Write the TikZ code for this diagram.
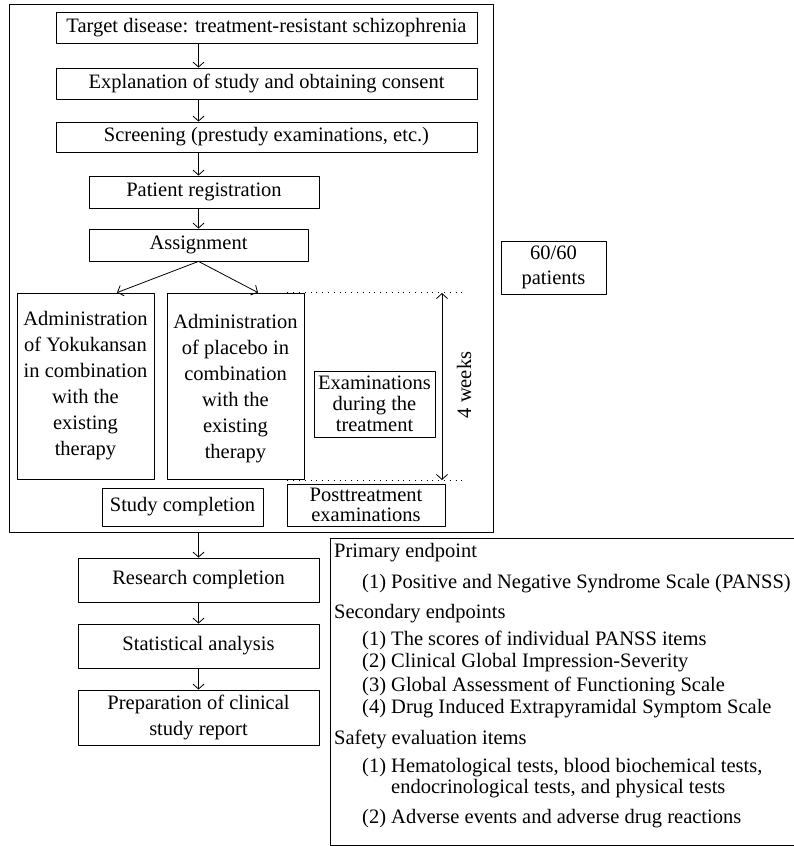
\documentclass[tikz,border=0pt]{standalone}
\usepackage{fontspec}
\setmainfont{Liberation Serif}
\usetikzlibrary{arrows.meta,calc}
\tikzset{box/.style={draw,line width=0.8pt,inner sep=0pt,align=center,font=\fontsize{20.5}{21}\selectfont}}
\tikzset{arr/.style={-{Straight Barb[length=5pt,width=11pt]},line width=0.8pt}}
\tikzset{txt/.style={anchor=west,inner sep=0pt,align=left,font=\fontsize{20.5}{21}\selectfont}}

\begin{document}
\begin{tikzpicture}[x=1pt,y=-1pt,line join=round]
\useasboundingbox (0,0) rectangle (794,846);
% --- frame round the study part
\node[box,minimum width=484pt,minimum height=528pt] (frame) at (251,268) {};
\node[box,minimum width=421pt,minimum height=31pt] (tgt) at (266.5,27.5) {Target disease: treatment-resistant schizophrenia};
\node[box,minimum width=421pt,minimum height=31pt] (expl) at (266.5,83.5) {Explanation of study and obtaining consent};
\node[box,minimum width=421pt,minimum height=30pt] (scr) at (266.5,137) {Screening (prestudy examinations, etc.)};
\node[box,minimum width=230pt,minimum height=32pt] (reg) at (204,192) {Patient registration};
\node[box,minimum width=219pt,minimum height=32pt] (asg) at (198.5,245) {Assignment};
\node[box,minimum width=137pt,minimum height=186pt,font=\fontsize{20.5}{26}\selectfont] (yoku) at (85.5,386) {Administration\\of Yokukansan\\in combination\\with the\\existing\\therapy};
\node[box,minimum width=137pt,minimum height=186pt,font=\fontsize{20.5}{26}\selectfont,text depth=-6pt] (plac) at (235.5,386) {Administration\\of placebo in\\combination\\with the\\existing\\therapy};
\node[box,minimum width=121pt,minimum height=66pt] (exdur) at (374.5,404) {Examinations\\during the\\treatment};
\node[box,minimum width=161pt,minimum height=38pt] (stdc) at (182.5,507) {Study completion};
\node[box,minimum width=158pt,minimum height=42pt,font=\fontsize{20.5}{19.5}\selectfont] (post) at (366,505) {Posttreatment\\examinations};
\node[box,minimum width=105pt,minimum height=53pt,font=\fontsize{20.5}{25}\selectfont] (pts) at (553.5,267.5) {60/60\\patients};
% --- after the study
\node[box,minimum width=241pt,minimum height=44pt] (rsc) at (198.5,580) {Research completion};
\node[box,minimum width=241pt,minimum height=44pt] (stat) at (198.5,646) {Statistical analysis};
\node[box,minimum width=241pt,minimum height=55pt,font=\fontsize{20.5}{26}\selectfont] (prep) at (198.5,717.5) {Preparation of clinical\\study report};
% --- flow
\draw[arr] (tgt.south -| asg.center) -- (expl.north -| asg.center);
\draw[arr] (expl.south -| asg.center) -- (scr.north -| asg.center);
\draw[arr] (scr.south -| asg.center) -- (reg.north -| asg.center);
\draw[arr] (reg.south -| asg.center) -- (asg.north);
\draw[arr] (asg.south) -- ($(yoku.north)+(31.5,0)$);
\draw[arr] (asg.south) -- ($(plac.north)+(22.5,0)$);
\draw[arr] (frame.south -| asg.center) -- (rsc.north);
\draw[arr] (rsc.south) -- (stat.north);
\draw[arr] (stat.south) -- (prep.north);
% --- 4 weeks span
\coordinate (wtop) at (442,293);
\coordinate (wbot) at (442,480);
\draw[line width=0.8pt,dash pattern=on 0.8pt off 5pt] ($(plac.north east)+(-17,0)$) -- ++(175,0);
\draw[line width=0.8pt,dash pattern=on 0.8pt off 5pt] ($(plac.south east)+(-17,1)$) -- ++(175,0);
\draw[arr,{Straight Barb[length=5pt,width=11pt]}-{Straight Barb[length=5pt,width=11pt]}] (wtop) -- (wbot);
\node[rotate=90,font=\fontsize{20.5}{21}\selectfont] (wk) at (464,385) {4 weeks};
% --- endpoints list
\draw[line width=0.8pt] (794,538) -- (330,538) -- (330,845) -- (794,845);
\node[txt] (pe) at (334,553) {Primary endpoint};
\node[txt] (pe1) at (362,584) {(1) Positive and Negative Syndrome Scale (PANSS)};
\node[txt] (se) at (334,614) {Secondary endpoints};
\node[txt] (se1) at (362,640) {(1) The scores of individual PANSS items};
\node[txt] (se2) at (362,663) {(2) Clinical Global Impression-Severity};
\node[txt] (se3) at (362,686) {(3) Global Assessment of Functioning Scale};
\node[txt] (se4) at (362,709) {(4) Drug Induced Extrapyramidal Symptom Scale};
\node[txt] (sf) at (334,739) {Safety evaluation items};
\node[txt] (sf1) at (362,778.5) {(1) Hematological tests, blood biochemical tests,\\\phantom{(1) }endocrinological tests, and physical tests};
\node[txt] (sf2) at (362,819) {(2) Adverse events and adverse drug reactions};
\end{tikzpicture}
\end{document}
